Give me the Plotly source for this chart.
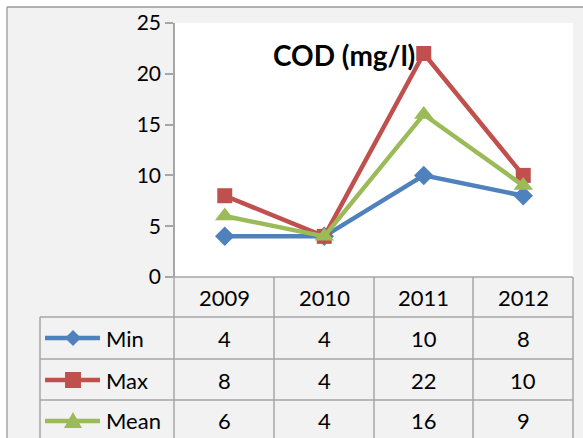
import plotly.graph_objects as go

# ── data ──────────────────────────────────────────────────────────────────────
years = ["2009", "2010", "2011", "2012"]
series_names = ["Min", "Max", "Mean"]
min_vals = [4, 4, 10, 8]
max_vals = [8, 4, 22, 10]
mean_vals = [6, 4, 16, 9]

COLORS = {"Min": "#4f81bd", "Max": "#c0504d", "Mean": "#9bbb59"}
SYMBOLS = {"Min": "diamond", "Max": "square", "Mean": "triangle-up"}
SIZES = {"Min": 15, "Max": 15, "Mean": 17}
FONT = "Lato"
GRID = "#a6a6a6"

W, H = 583, 438
L, R, T, B = 175, 10, 23, 161
PW = W - L - R
PH = H - T - B


def px(p):
    return (p - L) / PW


def py(q):
    return (H - B - q) / PH


fig = go.Figure()
for name, vals in zip(series_names, [min_vals, max_vals, mean_vals]):
    fig.add_trace(go.Scatter(
        x=years, y=vals, name=name, mode="lines+markers",
        line=dict(color=COLORS[name], width=4.5),
        marker=dict(symbol=SYMBOLS[name], size=SIZES[name], color=COLORS[name]),
        showlegend=False,
    ))

shapes = []
annotations = []

# outer frame: white strip outside, grey border line
shapes.append(dict(type="rect", xref="paper", yref="paper", x0=px(0), x1=px(7),
                   y0=py(H + 5), y1=py(-5), fillcolor="white", line_width=0, layer="below"))
shapes.append(dict(type="rect", xref="paper", yref="paper", x0=px(0), x1=px(W + 5),
                   y0=py(7), y1=py(-5), fillcolor="white", line_width=0, layer="below"))
shapes.append(dict(type="line", xref="paper", yref="paper", x0=px(7), x1=px(7),
                   y0=py(7), y1=py(H + 5), line=dict(color="#9a9a9a", width=1.3)))
shapes.append(dict(type="line", xref="paper", yref="paper", x0=px(7), x1=px(W + 5),
                   y0=py(7), y1=py(7), line=dict(color="#9a9a9a", width=1.3)))

# data table grid
row_lines = [277, 317, 359, 400]
for i, q in enumerate(row_lines):
    x0 = 174 if i == 0 else 40
    shapes.append(dict(type="line", xref="paper", yref="paper", x0=px(x0), x1=px(573),
                       y0=py(q), y1=py(q), line=dict(color=GRID, width=1.5)))
for p in [174, 274, 374, 473, 573]:
    shapes.append(dict(type="line", xref="paper", yref="paper", x0=px(p), x1=px(p),
                       y0=py(277), y1=py(H + 5), line=dict(color=GRID, width=1.5)))
shapes.append(dict(type="line", xref="paper", yref="paper", x0=px(40), x1=px(40),
                   y0=py(317), y1=py(H + 5), line=dict(color=GRID, width=1.5)))

cell_font = dict(size=22, color="black", family=FONT)

# header row (years)
for i, yr in enumerate(years):
    annotations.append(dict(x=i, xref="x", y=py(297), yref="paper", text=yr,
                            yanchor="middle", showarrow=False, font=cell_font))

# value rows with legend keys
row_centers = [338, 380, 421]
marker_paths = {
    "Min": "M 0,-8 L 8,0 L 0,8 L -8,0 Z",
    "Max": "M -8,-8 L 8,-8 L 8,8 L -8,8 Z",
    "Mean": "M -9,-7 L 9,-7 L 0,9 Z",
}
for name, vals, qc in zip(series_names, [min_vals, max_vals, mean_vals], row_centers):
    for i, v in enumerate(vals):
        annotations.append(dict(x=i, xref="x", y=py(qc), yref="paper", text=str(v),
                                yanchor="middle", showarrow=False, font=cell_font))
    annotations.append(dict(x=px(104), xref="paper", y=py(qc), yref="paper", text=name,
                            xanchor="left", yanchor="middle", showarrow=False, font=cell_font))
    shapes.append(dict(type="line", xref="paper", yref="paper", x0=px(45), x1=px(100),
                       y0=py(qc), y1=py(qc), line=dict(color=COLORS[name], width=4.5)))
    shapes.append(dict(type="path", xref="paper", yref="paper", xsizemode="pixel",
                       ysizemode="pixel", xanchor=px(73), yanchor=py(qc),
                       path=marker_paths[name], fillcolor=COLORS[name], line_width=0))

# title
annotations.append(dict(x=px(344), xref="paper", y=py(55), yref="paper", text="<b>COD (mg/l)</b>",
                        yanchor="middle", showarrow=False,
                        font=dict(size=28, color="black", family=FONT)))

fig.update_layout(
    width=W, height=H,
    margin=dict(l=L, r=R, t=T, b=B, pad=0),
    paper_bgcolor="#f2f2f2",
    plot_bgcolor="white",
    font=dict(family=FONT, size=20, color="black"),
    shapes=shapes,
    annotations=annotations,
    xaxis=dict(type="category", range=[-0.5, 3.5], showticklabels=False, showgrid=False,
               zeroline=False, showline=False, ticks=""),
    yaxis=dict(range=[0, 25], dtick=5, showgrid=False, zeroline=False, showline=True,
               linecolor=GRID, linewidth=1.5, ticks="outside", ticklen=8, tickcolor=GRID,
               tickwidth=1.5, tickfont=dict(size=21, family=FONT, color="black")),
)

fig.write_html("out.html", config={"displayModeBar": False},
               post_script="document.body.style.margin='0';")
